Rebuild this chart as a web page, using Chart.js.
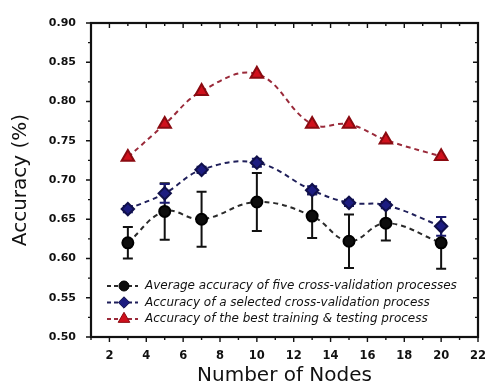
<!DOCTYPE html>
<html>
<head>
<meta charset="utf-8">
<script src="https://cdn.jsdelivr.net/npm/chart.js@4/dist/chart.umd.min.js"></script>
<style>
  html, body { margin: 0; padding: 0; background: #fff; }
  #wrap { width: 490px; height: 392px; }
</style>
</head>
<body>
<div id="wrap"><canvas id="chart"></canvas></div>
<script>
// Data
const nodes = [3, 5, 7, 10, 13, 15, 17, 20];
const avgAccuracy = [0.620, 0.660, 0.650, 0.672, 0.654, 0.622, 0.645, 0.620];
const avgError = [0.020, 0.036, 0.035, 0.037, 0.028, 0.034, 0.022, 0.033];
const selectedAccuracy = [0.663, 0.683, 0.713, 0.722, 0.687, 0.671, 0.668, 0.641];
const selectedError = [0.004, 0.012, 0.004, 0.005, 0.005, 0.004, 0.004, 0.012];
const bestAccuracy = [0.729, 0.771, 0.813, 0.835, 0.771, 0.771, 0.751, 0.730];
const xTicks = [2, 4, 6, 8, 10, 12, 14, 16, 18, 20, 22];
const yTicks = [0.50, 0.55, 0.60, 0.65, 0.70, 0.75, 0.80, 0.85, 0.90];
const seriesLabels = [
  "Average accuracy of five cross-validation processes",
  "Accuracy of a selected cross-validation process",
  "Accuracy of the best training & testing process"
];

const FONT = "'DejaVu Sans', Arial, sans-serif";

function pts(ys) {
  return nodes.map((x, i) => ({ x: x, y: ys[i] }));
}

// error bars, frame, minor/mirror ticks and in-plot legend
const decor = {
  id: "decor",
  beforeDatasetsDraw(chart) {
    const ctx = chart.ctx;
    const xs = chart.scales.x, ys = chart.scales.y;
    const bars = [[avgAccuracy, avgError, "#111"], [selectedAccuracy, selectedError, "#1a1a6e"]];
    ctx.save();
    ctx.lineWidth = 2;
    bars.forEach(([vals, errs, col]) => {
      ctx.strokeStyle = col;
      nodes.forEach((n, i) => {
        const px = xs.getPixelForValue(n);
        const top = ys.getPixelForValue(vals[i] + errs[i]);
        const bot = ys.getPixelForValue(vals[i] - errs[i]);
        ctx.beginPath();
        ctx.moveTo(px, top); ctx.lineTo(px, bot);
        ctx.moveTo(px - 5, top); ctx.lineTo(px + 5, top);
        ctx.moveTo(px - 5, bot); ctx.lineTo(px + 5, bot);
        ctx.stroke();
      });
    });
    ctx.restore();
  },
  afterDraw(chart) {
    const ctx = chart.ctx;
    const a = chart.chartArea;
    const xs = chart.scales.x, ys = chart.scales.y;
    ctx.save();
    ctx.strokeStyle = "#111";
    ctx.lineWidth = 2.2;
    ctx.strokeRect(a.left, a.top, a.right - a.left, a.bottom - a.top);
    ctx.lineWidth = 1.4;
    ctx.beginPath();
    for (let v = 1; v <= 22; v++) {
      const px = xs.getPixelForValue(v);
      const len = v % 2 === 0 ? 5 : 3;
      ctx.moveTo(px, a.bottom); ctx.lineTo(px, a.bottom + len);
      ctx.moveTo(px, a.top); ctx.lineTo(px, a.top + len);
    }
    for (let k = 0; k <= 16; k++) {
      const v = 0.5 + k * 0.025;
      const py = ys.getPixelForValue(v);
      const len = k % 2 === 0 ? 5 : 3;
      ctx.moveTo(a.left, py); ctx.lineTo(a.left - len, py);
      ctx.moveTo(a.right, py); ctx.lineTo(a.right - len, py);
    }
    ctx.stroke();

    // legend inside plot
    ctx.font = "italic 12px " + FONT;
    ctx.textBaseline = "middle";
    chart.data.datasets.forEach((ds, i) => {
      const y = a.top + 263 + i * 16.5;
      const x0 = a.left + 16, x1 = a.left + 47;
      ctx.strokeStyle = ds.borderColor;
      ctx.lineWidth = 2;
      ctx.setLineDash([4, 3]);
      ctx.beginPath(); ctx.moveTo(x0, y); ctx.lineTo(x1, y); ctx.stroke();
      ctx.setLineDash([]);
      const mx = a.left + 33;
      ctx.fillStyle = ds.pointBackgroundColor;
      ctx.strokeStyle = ds.pointBorderColor;
      ctx.lineWidth = 1;
      Chart.helpers.drawPoint(ctx, { pointStyle: ds.pointStyle, radius: ds.pointRadius - 0.5, borderWidth: 1 }, mx, y);
      ctx.fillStyle = "#111";
      ctx.fillText(seriesLabels[i], a.left + 54, y);
    });
    ctx.restore();
  }
};

new Chart(document.getElementById("chart"), {
  type: "line",
  data: {
    datasets: [
      {
        label: seriesLabels[0],
        data: pts(avgAccuracy),
        borderColor: "#2a2a2a",
        borderDash: [5, 4],
        borderWidth: 2,
        tension: 0.4,
        pointStyle: "circle",
        pointRadius: 5.5,
        pointBackgroundColor: "#0d0d0d",
        pointBorderColor: "#000"
      },
      {
        label: seriesLabels[1],
        data: pts(selectedAccuracy),
        borderColor: "#1f1f5a",
        borderDash: [5, 4],
        borderWidth: 2,
        tension: 0.4,
        pointStyle: "rectRot",
        pointRadius: 6.2,
        pointBackgroundColor: "#1c1c80",
        pointBorderColor: "#10104a"
      },
      {
        label: seriesLabels[2],
        data: pts(bestAccuracy),
        borderColor: "#9a2a3a",
        borderDash: [5, 4],
        borderWidth: 2,
        tension: 0.4,
        pointStyle: "triangle",
        pointRadius: 7.2,
        pointBackgroundColor: "#d0101c",
        pointBorderColor: "#8a0a10"
      }
    ]
  },
  options: {
    responsive: true,
    maintainAspectRatio: false,
    animation: false,
    layout: { padding: { top: 23, right: 10, left: 0, bottom: 0 } },
    plugins: {
      legend: { display: false },
      tooltip: { enabled: false }
    },
    scales: {
      x: {
        type: "linear",
        min: 1,
        max: 22,
        afterBuildTicks: s => { s.ticks = xTicks.map(v => ({ value: v })); },
        afterFit: s => { s.height = 55; },
        grid: { display: false },
        border: { display: false },
        ticks: { color: "#111", font: { family: FONT, size: 11.5, weight: "bold" }, padding: 4, maxRotation: 0 },
        title: { display: true, text: "Number of Nodes", color: "#111", font: { family: FONT, size: 20 }, padding: { top: 0 } }
      },
      y: {
        min: 0.5,
        max: 0.9,
        afterBuildTicks: s => { s.ticks = yTicks.map(v => ({ value: v })); },
        afterFit: s => { s.width = 91; },
        grid: { display: false },
        border: { display: false },
        ticks: { color: "#111", font: { family: FONT, size: 11, weight: "bold" }, padding: 7, callback: v => v.toFixed(2) },
        title: { display: true, text: "Accuracy (%)", color: "#111", font: { family: FONT, size: 20 }, padding: { top: 9, bottom: 4 } }
      }
    }
  },
  plugins: [decor]
});
</script>
</body>
</html>
